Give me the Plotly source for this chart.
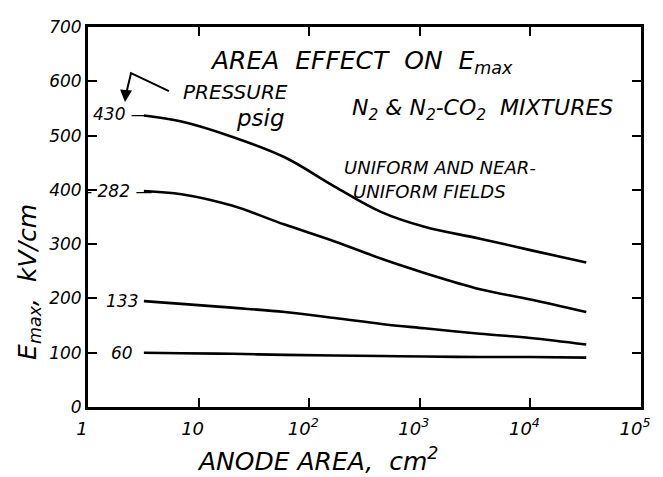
import plotly.graph_objects as go
import numpy as np

# Anode area (cm^2) sample positions
area = [3.2, 7, 20, 60, 170, 450, 1100, 3500, 10000, 32000]

# E_max (kV/cm) for each pressure (psig)
e_430 = [537, 526, 498, 460, 406, 359, 332, 310, 289, 266]
e_282 = [398, 392, 371, 336, 305, 273, 247, 217, 198, 175]
e_133 = [195, 190, 183, 175, 164, 153, 145, 135, 127, 115]
e_60 = [100, 99, 98, 96, 95, 94, 93, 92, 92, 91]

pressures = ["430", "282", "133", "60"]
series = [e_430, e_282, e_133, e_60]

x_tickvals = [1, 10, 100, 1000, 10000, 100000]
x_ticktext = ["1", "10", "10<sup>2</sup>", "10<sup>3</sup>", "10<sup>4</sup>", "10<sup>5</sup>"]
y_tickvals = [0, 100, 200, 300, 400, 500, 600, 700]

FONT = dict(family="DejaVu Sans", color="black", style="italic")
NB = "\u00a0"

fig = go.Figure()
for name, vals in zip(pressures, series):
    fig.add_trace(go.Scatter(x=area, y=vals, mode="lines", name=name,
                             line=dict(color="black", width=2.6, shape="spline"),
                             showlegend=False, hoverinfo="skip"))

# bent leader line from "PRESSURE" label
lead_x = [5.4, 2.45, 2.2]
lead_y = [582, 615, 575]
fig.add_trace(go.Scatter(x=lead_x, y=lead_y, mode="lines",
                         line=dict(color="black", width=2), showlegend=False,
                         hoverinfo="skip"))

annotations = []
# arrow head
annotations.append(dict(x=np.log10(2.16), y=562, ax=np.log10(2.2), ay=580,
                        xref="x", yref="y", axref="x", ayref="y", text="",
                        showarrow=True, arrowhead=2, arrowsize=1.2, arrowwidth=2,
                        arrowcolor="black"))

# curve labels
label_x = [1.95, 1.9, 2.05, 2.05]
label_y = [539, 398, 196, 100]
label_txt = ["430 \u2014", "- 282 \u2014", "133", "60"]
for t, lx, ly in zip(label_txt, label_x, label_y):
    annotations.append(dict(x=np.log10(lx), y=ly, xref="x", yref="y",
                            text=t, showarrow=False, xanchor="center",
                            font=dict(size=17, **FONT)))

texts = [
    (f"AREA{NB*2}EFFECT{NB*2}ON{NB*2}E<sub>max</sub>", 10 ** 2.47, 636, 25),
    ("PRESSURE", 10 ** 1.33, 580, 20),
    ("psig", 10 ** 1.56, 533, 23),
    (f"N<sub>2</sub>{NB}&{NB}N<sub>2</sub>-CO<sub>2</sub>{NB*2}MIXTURES", 10 ** 3.57, 548, 22),
    ("UNIFORM AND NEAR-", 10 ** 3.18, 442, 18),
    ("UNIFORM FIELDS", 10 ** 3.09, 397, 18),
]
for t, tx, ty, sz in texts:
    annotations.append(dict(x=np.log10(tx), y=ty, xref="x", yref="y", text=t,
                            showarrow=False, font=dict(size=sz, **FONT)))

# axis titles
annotations.append(dict(x=0.415, y=-0.138, xref="paper", yref="paper",
                        xanchor="center", yanchor="middle",
                        text=f"ANODE{NB}AREA,{NB*2}cm<sup>2</sup>", showarrow=False,
                        font=dict(size=25, **FONT)))
annotations.append(dict(x=-0.108, y=0.33, xref="paper", yref="paper",
                        xanchor="center", yanchor="middle",
                        text=f"E<sub>max</sub>,{NB*2}kV/cm", showarrow=False, textangle=-90,
                        font=dict(size=25, **FONT)))

fig.update_layout(
    width=655, height=469,
    margin=dict(l=80, r=22, t=9, b=70),
    paper_bgcolor="white", plot_bgcolor="white",
    font=dict(size=16, **FONT),
    annotations=annotations,
)
fig.update_xaxes(type="log", range=[0, 5], tickvals=x_tickvals, ticktext=x_ticktext,
                 ticks="inside", ticklen=9, tickwidth=2, tickcolor="black",
                 showline=True, linecolor="black", linewidth=3, mirror="ticks",
                 ticklabelstandoff=3, ticklabelshift=-6,
                 showgrid=False, zeroline=False, tickfont=dict(size=18, **FONT))
fig.update_yaxes(range=[0, 700], tickvals=y_tickvals,
                 ticks="inside", ticklen=9, tickwidth=2, tickcolor="black",
                 showline=True, linecolor="black", linewidth=3, mirror="ticks",
                 showgrid=False, zeroline=False, tickfont=dict(size=17, **FONT))

fig.write_html("out.html")
